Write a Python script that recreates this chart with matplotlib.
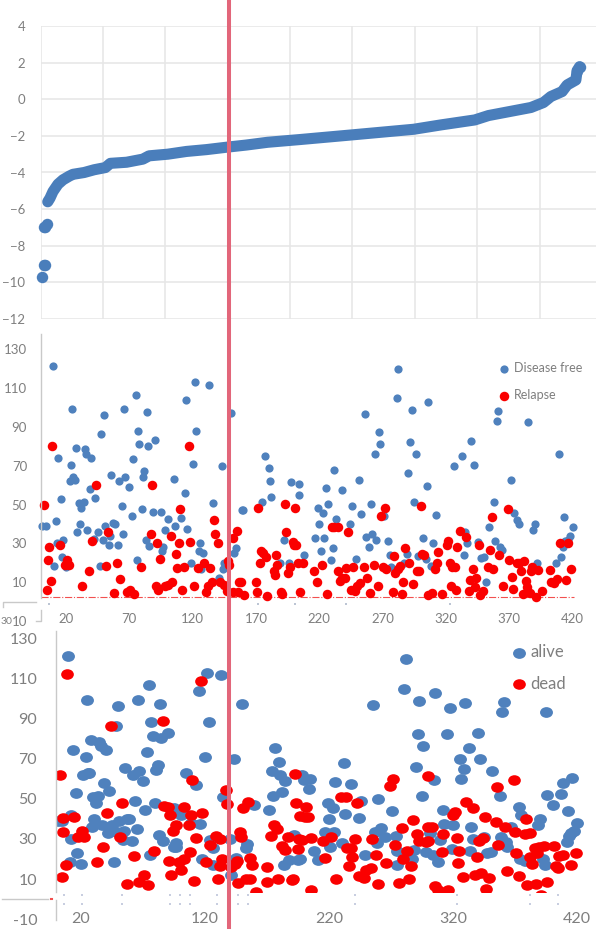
import matplotlib
matplotlib.use("Agg")
import matplotlib.pyplot as plt
from matplotlib.lines import Line2D
from matplotlib.markers import MarkerStyle
from matplotlib.patches import Rectangle
from matplotlib.transforms import Affine2D

W, H = 598, 930
plt.rcParams['font.family'] = ['Lato', 'DejaVu Sans']

# ---- top panel: sorted score ----
score_isolated_x = [1, 2.5, 4, 3, 4, 5]
score_isolated_y = [-9.7, -9.07, -9.07, -7, -7, -6.8]
score_x = [5.8, 7.6, 10, 14, 18, 23, 26, 35, 43, 52, 56, 69, 82, 87, 102, 117, 133, 149, 165, 182, 208,
           249, 299, 321, 348, 359, 393, 403, 409, 418, 422, 429, 430, 432]
score_y = [-5.6, -5.4, -5.04, -4.64, -4.4, -4.2, -4.1, -4.0, -3.85, -3.73, -3.5, -3.44, -3.27, -3.09, -3.0,
           -2.85, -2.75, -2.62, -2.5, -2.35, -2.2, -1.95, -1.64, -1.4, -1.13, -0.89, -0.45, -0.18, 0.15,
           0.42, 0.78, 1.05, 1.56, 1.78]

# ---- middle panel ----
disease_free = [(9.9,121),(1,39),(4,39),(12,41.5),(14,74),(16,53),(13,30),(18,31.5),(17,23),(11,18.5),(20,18),
 (24,70.5),(25,99),(28,79),(23,62),(26,64),(27,62.5),(30,51),(34,51.5),(32,48),(31,40),(29,36),(37,37),(35,78.5),
 (36,76),(40,74),(39,58),(43,53.5),(45,36),(42,32.5),(48,86),(50,96),(47,18.4),(49,32),(51,39),(55,34),(54,29),
 (56,65),(57.5,40.7),(59,40),(61,29),(62,62),(64,49),(65,35),(66,99),(67,64),(70,59),(72,44),(73,73.4),(75,106.5),
 (76,21.7),(77,88),(78,81),(80,47.5),(81,64.3),(82,67),(83,32),(84,97.4),(85,80),(86,28.7),(89,46),(90,83),(95,46),
 (97,28),(96,26),(98,37),(101,42.6),(106,39),(105,63),(111,43),(114,55.8),(115,103.7),(116,37.6),(119,20),(120,71),
 (122,113),(123,88),(126,30),(125,26),(128,25),(127,17),(133,111.5),(136,51),(141,12),(143,70),(144,17),(145,20),
 (150,97),(153,25),(154,27.5),(159,47),(160,47),(175,51.5),(177,75),(180,68.6),(181,62),(182,53.7),(192,31.6),
 (189,20),(196,20),(198,61.8),(204,60.4),(204,54.7),(208,24),(217,33),(219,48),(220,40),(221,26),(223,45.6),(224,33),
 (225,58.5),(227,50),(229,21.6),(231,27.6),(232,67.8),(233,42.4),(238,57.5),(244,40),(246,49),(249,22),(251,62.8),
 (253,45),(256,96.7),(257,33.3),(259,28),(261,50),(262,35),(264,76),(265,31.6),(267,87.5),(268,81),(271,44),(274,31.4),
 (276,24),(277,17.7),(281,104.6),(282,119.5),(287,20),(289,24.4),(290,66),(292,82),(293,98.8),(295,51.5),(296,76),
 (298,23.5),(302,33),(304,22),(305,59.5),(306,102.5),(308,18.6),(310,30),(312,44.4),(326,70),(333,75),(334,24),(335,36),
 (337,30.4),(340,82.7),(342,70.5),(345,30.7),(348,22.7),(350,23),(352,10),(354,38.4),(358,51.5),(359,31),(360,93),
 (361,98),(363,28),(364,26.6),(371,62.6),(374,45.8),(376,42),(378,40),(385,92.3),(389,37),(390,40),(392,20),(407,20),
 (409,75.8),(411,23),(412,28),(413,43.8),(414,31),(416,32),(418,34),(420,38.3)]
relapse = [(3,49.6),(9,80),(7,28.3),(6,21.3),(8,10.9),(5,5.9),(15,29),(21,21.5),(19,19),(22.5,19),(33,8),(38,16),(41,31),
 (44,60),(52,18.6),(53,36),(58,4.7),(60,20),(63,11.5),(68,5.2),(71,6),(74,4),(79,18),(87,34.7),(88,60),(91,8.3),(92,30),
 (93,6),(94,22),(98,8),(101,8.6),(103,34),(104,10),(107,24.7),(108,17.5),(109,30),(110,47.5),(112,5.9),(113,18),(117,80),
 (118,30.7),(121,8),(124,17.4),(129,20),(131,5),(132,8),(134,17.5),(135,10),(137,42),(138,35),(140,30),(142,10),(145,8.6),
 (147,5.5),(148,21),(149,19),(152,33),(152,5),(155,36.4),(156,5),(157,10),(158,10.3),(161,3.5),(170,10),(171,5),(172,48),
 (173,20),(174,26),(176,25),(178,23),(179,3),(184,16),(185,14),(186,24),(187,19),(190,5),(191,4),(193,50),(194,35.7),
 (195,15),(197,18),(199,30.6),(200,29),(201,48),(202,29),(203,20),(205,5),(207,20),(216,16),(218,10.3),(222,18.7),(226,4),
 (230,38.6),(232,38.6),(235,38.6),(235,15.8),(236,10.9),(238,12),(240,12),(241,17.5),(243,36),(245,6),(247,18),(248,5.7),
 (250,8.3),(252,9.5),(255,17.7),(258,12),(260,4.3),(263,18.7),(266,8),(269,44),(270,18),(272,48),(273,17),(278,5),(279,23.5),
 (280,15),(282,17),(284,18.4),(285,4),(286,10.3),(288,27.5),(291,20),(294,9),(297,16),(299,16),(300,49),(301,24.7),(303,24),
 (306,3.5),(309,4.3),(311,17),(313,20),(314,25.6),(317,4),(321,29.4),(322,31),(323,20),(324,8),(325,18),(327,18),(328,6),
 (329,28),(331,36.6),(336,33.5),(338,5.7),(339,11),(341,17),(343,7.4),(344,12),(346,29),(347,3.5),(349,5.7),(353,18),
 (355,26.5),(356,43.8),(357,17),(362,24),(365,8),(369,47.5),(370,21.3),(372,12.7),(373,6.6),(376,20),(378,20),(379,16),
 (382,21),(383,10.7),(381,4),(384,7.4),(386,4.3),(387,16),(388,18),(391,2.6),(393,16.5),(396,5.4),(402,16.5),(403,10.3),
 (405,9.5),(408,11.7),(410,30),(415,11),(416,30),(419,17)]

# ---- bottom panel ----
alive = [(9.7,121),(1.6,39),(4.6,39),(12,42),(14,74),(16,53),(12,30),(17,23),(11,18.6),(20,17.6),(24,70.6),(25,99),(28,79),
 (22,62),(25.5,63),(27,62.6),(30,51),(34,51.5),(32,48),(31,40),(29,36),(37,37),(35,78.4),(36,76),(40,74),(39,58),(43,53.6),
 (45,36.7),(42,32.7),(48,86),(50,96),(47,18.5),(49,33.4),(51,39),(55,34),(54,29.6),(56,65.4),(57.5,40),(59,40),(61,29),
 (62,62),(64,49),(65,35),(66,99),(67,64),(70,59),(72,44.4),(73,73.4),(75,106.4),(76,21.8),(77,88),(78,81),(80,47.7),(81,64.4),
 (82,67),(83,32),(84,97),(85,80),(86,29),(90,82.7),(95,45.5),(97,26),(95,26),(97,28),(101,42),(105,63),(109,38),(113,57),
 (115,103.6),(116,37.5),(118,20),(120,71),(122,112.7),(123,88),(124,29.6),(127,25.4),(127,17),(133,111.5),(135,50.8),(141,12),
 (143.5,69.8),(145,20.3),(140,30),(150,97),(153,25.4),(154,27.4),(160,47),(171.5,44.4),(175,51.5),(177,75),(174,63.6),
 (180,68.4),(181,62),(182,53.5),(185,59),(183.6,16.8),(188,19.6),(192,31.7),(195,19.6),(198,62),(200,59.5),(205,60),
 (204,54.8),(196.5,20),(208,24),(211,19.3),(217,33.6),(219,47.8),(220,40),(221,26),(223,45.6),(224,33.6),(225,58.5),
 (231,27.8),(232,67.8),(233,42.4),(238,57.4),(244,40.2),(246,49),(249,22),(260,50),(256,96.5),(257.5,33.6),(259,28),(262,35.4),
 (265,31),(271,44),(274.5,31.6),(275,23.8),(275,17),(281,104.4),(282,119.5),(287,20),(289,24.6),(290,66),(292,82),(293,98.7),
 (295,51.5),(296,76),(298,23.6),(302,33),(304,22),(305,59.3),(306,102.5),(308,18.5),(310,29.6),(312,44.4),(315,82.4),(318,95.3),
 (313,37.4),(320,36.7),(319,25),(326,70),(327,59.6),(329,65),(330,97.6),(333,75),(334,24),(335,36),(336,30),(340,82.7),(342,70),
 (345,31),(347.6,23),(351,23.6),(352,63.8),(358,51.5),(359,31),(360,93),(361,98),(363,28.4),(364,26),(367,36),(373,45.8),
 (375,42),(374,20),(378,18.8),(389,37),(390,40),(393,20),(394,17),(395,93),(396,51.7),(401,47),(407,52.3),(409,58),(416,60.4),
 (412,28.4),(413,44),(413.6,31.4),(415,32.7),(418,34),(420,38)]
dead = [(3,61.6),(9,112),(5.6,33.4),(6,40.5),(14.5,41),(18,31),(21,33.7),(22.6,31),(5,11),(8,17),(33,18.3),(38,26),(41,43),
 (44,86),(52,30.7),(53,47.8),(57.5,7.7),(63,21.5),(67,8.3),(71,12),(74,7.2),(79,24),(86,88.7),(87,46.3),(90,45.7),(92,41.7),
 (91,18.8),(92.5,11.8),(94,34),(97,36.7),(99,18.6),(101,14.6),(103,46),(103,20),(107,36.7),(108,23.6),(110,59.5),(108.6,41.9),
 (111.6,9),(113,30.4),(117,108.4),(118,42.9),(121,18.3),(124,27),(129,31.6),(131,10),(132,16.3),(132,30),(134,20),(137,54.3),
 (138,47.3),(141,15.8),(144,17.3),(146,18.8),(146.5,8),(148,33.6),(149,31),(151,45.3),(153,10),(154.6,48.3),(156.5,20.3),
 (156.5,10),(158,16.8),(161,3.5),(170,16),(170.4,8.3),(173,31.6),(176,36.7),(178,35),(179,10),(182,26.3),(185,24.6),(187,31),
 (190,9.7),(191,10),(192.5,62.4),(193.5,47.7),(195,25),(196,30),(197,41.5),(198,29.6),(202,46),(201,41),(203.4,41),(206,30.4),
 (206,4.7),(215,29),(217,20.3),(222,31),(226,10),(230,50.6),(234,50.6),(234.7,25.6),(238,25.6),(239,21),(241,30),(236,16.6),
 (242.5,47.8),(244,11.7),(248,10.5),(250,14.3),(254,15.6),(255,30),(258,22),(260,7.5),(266,18),(269,56.5),(272,60),(273,27),
 (277,8),(279,35.6),(280,20),(283,23.8),(285,10),(286,16.5),(288,39.4),(291,32.6),(293,29),(300,35.7),(298.6,28.6),(300,29),
 (300,61.5),(303,36),(306,6.7),(308,4.7),(311,23.2),(312,32.4),(316,4.4),(320,41.9),(322,43.4),(323,30.4),(324,18),(325,23.8),
 (328,11),(331,48.5),(336,45.4),(338,12),(339.5,20.8),(341,29),(343,13),(344,30.4),(346,41),(347,5),(349,10.7),(355,38.5),
 (356,55.8),(356.5,27),(362,36),(364,14),(369,59.5),(370,33.6),(371,23),(373,11.7),(378,32.4),(382,33),(379,40),(380,6.8),
 (387,7.3),(382,20.8),(384,17.5),(386,25.4),(388,23),(389.5,26),(393.5,26.6),(396,8.5),(391,2.2),(402,26.6),(403,16.6),
 (405,15.3),(406,21.3),(409,21.8),(415,17),(419,23)]

top_yticks = [-12, -10, -8, -6, -4, -2, 0, 2, 4]
top_xgrid = [0, 50, 100, 150, 200, 250, 300, 350, 400]
y_ticks = [-10, 10, 30, 50, 70, 90, 110, 130]
y_labels_mid = ['10', '10', '30', '50', '70', '90', '110', '130']
y_labels_bot = ['-10', '10', '30', '50', '70', '90', '110', '130']
mid_xticks = [20, 70, 120, 170, 220, 270, 320, 370, 420]
bot_xticks = [20, 120, 220, 320, 420]
mid_specks = [6.7, 172, 201, 241, 323]
bot_specks = [6.5, 21, 53, 92, 100, 108, 130, 147, 155, 241, 323, 382, 405]

BLUE = '#4f81bd'
BLUE_TOP = '#4a7ebb'
RED = '#fa0000'
GREY = '#7f7f7f'
GRID = '#e6e6e6'
AXIS = '#c9c9c9'

fig = plt.figure(figsize=(W / 100, H / 100), dpi=100, facecolor='white')


def px_axes(left, top, right, bottom):
    ax = fig.add_axes([left / W, 1 - bottom / H, (right - left) / W, (bottom - top) / H])
    ax.patch.set_alpha(0)
    for s in ax.spines.values():
        s.set_visible(False)
    return ax


def px_line(xs, ys, color=AXIS, lw=1.0, z=1):
    fig.add_artist(Line2D([x / W for x in xs], [1 - y / H for y in ys], color=color, lw=lw, zorder=z))


def split(pairs):
    return [p[0] for p in pairs], [p[1] for p in pairs]


# Top
ax1 = px_axes(40.5, 26, 595.7, 319)
ax1.set_xlim(0, 444.9)
ax1.set_ylim(-12, 4)
ax1.set_yticks(top_yticks)
ax1.set_xticks(top_xgrid)
ax1.grid(True, color=GRID, lw=1.1)
ax1.set_axisbelow(True)
ax1.tick_params(axis='y', length=0, pad=11, labelsize=9.5, labelcolor=GREY)
ax1.tick_params(axis='x', length=0, labelbottom=False)
ax1.plot(score_x, score_y, color=BLUE_TOP, lw=8, solid_capstyle='round', solid_joinstyle='round', zorder=3)
ax1.scatter(score_isolated_x, score_isolated_y, s=68, color=BLUE_TOP, clip_on=False, zorder=3, linewidths=0)
ax1.scatter(score_x[-2:], score_y[-2:], s=68, color=BLUE_TOP, clip_on=False, zorder=3, linewidths=0)

# Middle
Y10_M, SC_M = 582.3, 1.945
ax2 = px_axes(40.5, 334, 598, 628)
ax2.set_xlim(0, (598 - 40.5) / 1.267)
ax2.set_ylim(10 - (628 - Y10_M) / SC_M, 10 + (Y10_M - 334) / SC_M)
ax2.set_yticks(y_ticks, y_labels_mid)
ax2.set_xticks(mid_xticks, [str(v) for v in mid_xticks])
ax2.tick_params(axis='y', length=0, pad=9.7, labelsize=9.5, labelcolor=GREY)
ax2.tick_params(axis='x', length=0, pad=-10.5, labelsize=9.5, labelcolor=GREY)
ax2.hlines(2.3, 0, 421, color='#f2504f', lw=0.8, linestyles='dashdot', zorder=2)
x, y = split(disease_free)
h1 = ax2.scatter(x, y, s=35, color=BLUE, linewidths=0, zorder=3, clip_on=False, label='Disease free')
x, y = split(relapse)
h2 = ax2.scatter(x, y, s=47, color=RED, linewidths=0, zorder=4, clip_on=False, label='Relapse')
ax2.scatter(mid_specks, [-1] * len(mid_specks), s=1.5, marker='s', color='#bcc5d4', linewidths=0, zorder=2)
ax2.legend(handles=[h1, h2], loc='upper left', bbox_to_anchor=(498 / W, 1 - 362 / H), bbox_transform=fig.transFigure,
           frameon=False, fontsize=9, labelcolor=GREY, borderpad=0, borderaxespad=0, labelspacing=1.2,
           handlelength=1.0, handletextpad=0.25, scatterpoints=1)
px_line([40.5, 40.5], [334, 598])
px_line([40.5, 40.5, 36], [610, 621, 621])
px_line([2.5, 2.5, 36], [607, 602, 602])
fig.text(0.5 / W, 1 - 621 / H, '30', fontsize=7.5, color=GREY, ha='left', va='center')

# Bottom
Y10_B, SC_B = 879, 2.008
ax3 = px_axes(56, 630, 598, 928)
ax3.set_xlim(0, (598 - 56) / 1.24)
ax3.set_ylim(10 - (928 - Y10_B) / SC_B, 10 + (Y10_B - 630) / SC_B)
ax3.set_yticks(y_ticks, y_labels_bot)
ax3.set_xticks(bot_xticks, [str(v) for v in bot_xticks])
ax3.tick_params(axis='y', length=0, pad=13.5, labelsize=11.5, labelcolor=GREY)
ax3.tick_params(axis='x', length=0, pad=-11.5, labelsize=11.5, labelcolor=GREY)
wide = MarkerStyle('o', transform=Affine2D().scale(1.2, 1.0))
x, y = split(alive)
h3 = ax3.scatter(x, y, s=60, marker=wide, color=BLUE, linewidths=0, zorder=3, label='alive')
x, y = split(dead)
h4 = ax3.scatter(x, y, s=58, marker=wide, color=RED, linewidths=0, zorder=4, label='dead')
clip = Rectangle((0, 3.5), 500, 140, transform=ax3.transData)
h3.set_clip_path(clip)
h4.set_clip_path(clip)
ax3.scatter(bot_specks, [2] * len(bot_specks), s=1.5, marker='s', color='#c8cee0', linewidths=0, zorder=2)
ax3.scatter(bot_specks, [-2.5] * len(bot_specks), s=1.5, marker='s', color='#c8cee0', linewidths=0, zorder=2)
ax3.legend(handles=[h3, h4], loc='upper left', bbox_to_anchor=(510.5 / W, 1 - 644 / H), bbox_transform=fig.transFigure,
           frameon=False, fontsize=12, labelcolor=GREY, borderpad=0, borderaxespad=0, labelspacing=0.95,
           handlelength=1.0, handletextpad=0.2, scatterpoints=1)
px_line([56, 56], [631, 892])
px_line([56, 56], [900, 920])
px_line([2, 48], [899, 899])
px_line([50.5, 52], [899, 899], color='#f2504f', lw=1.5)

# Vertical marker line
px_line([229, 229], [0, 927], color='#e2667a', lw=2.9, z=10)

fig.savefig('out.png', dpi=100, facecolor='white')
